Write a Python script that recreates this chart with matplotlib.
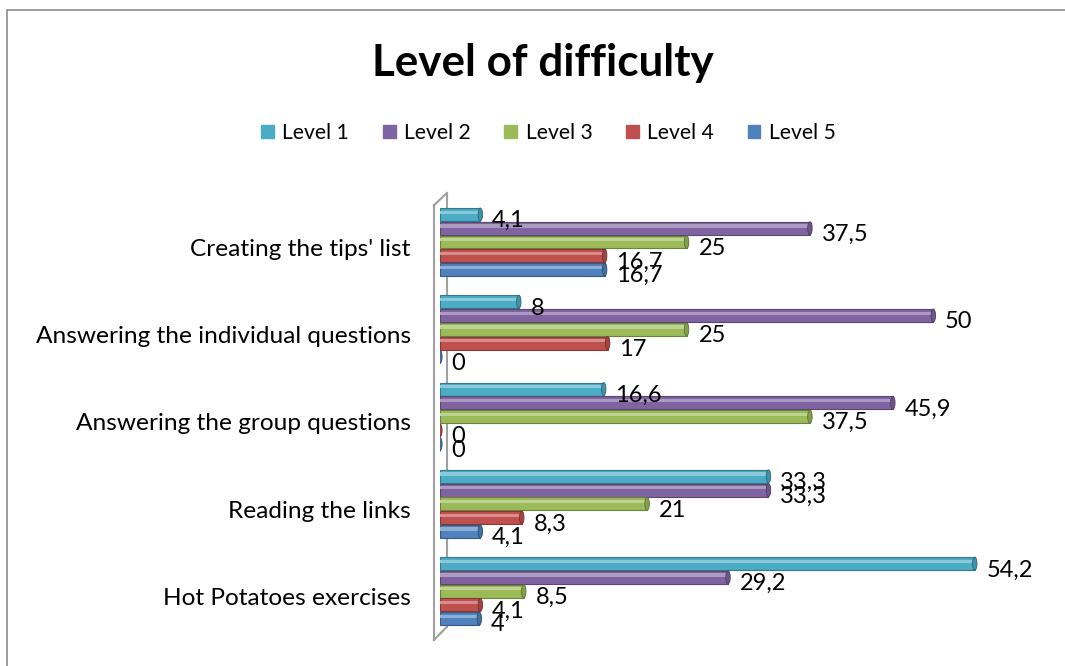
import matplotlib.pyplot as plt
import matplotlib.colors as mcolors
from matplotlib.patches import Rectangle, Ellipse
import numpy as np

plt.rcParams['font.family'] = ['Lato', 'DejaVu Sans']

# data (bottom to top on the y axis)
categories = ['Hot Potatoes exercises', 'Reading the links', 'Answering the group questions',
              'Answering the individual questions', "Creating the tips' list"]
levels = ['Level 1', 'Level 2', 'Level 3', 'Level 4', 'Level 5']
level1 = [54.2, 33.3, 16.6, 8, 4.1]
level2 = [29.2, 33.3, 45.9, 50, 37.5]
level3 = [8.5, 21, 37.5, 25, 25]
level4 = [4.1, 8.3, 0, 17, 16.7]
level5 = [4, 4.1, 0, 0, 16.7]
series = [level1, level2, level3, level4, level5]
colors = ['#4BACC6', '#8064A2', '#9BBB59', '#C0504D', '#4F81BD']

fig = plt.figure(figsize=(10.65, 6.66), dpi=100)
ax = fig.add_axes([0.413, 0.039, 0.556, 0.671])

# outer chart border
fig.patches.append(Rectangle((7 / 1065, -0.1), 1.2, 1.085, transform=fig.transFigure,
                             fill=False, edgecolor='#8c8c8c', linewidth=1.2, zorder=0))

y = np.arange(len(categories))
step = 0.1576
bar_h = 0.148

def darker(c, f=0.7):
    r, g, b = mcolors.to_rgb(c)
    return (r * f, g * f, b * f)

def lighter(c, f=0.35):
    r, g, b = mcolors.to_rgb(c)
    return (r + (1 - r) * f, g + (1 - g) * f, b + (1 - b) * f)

for k, (vals, col) in enumerate(zip(series, colors)):
    ypos = y + (2 - k) * step
    ax.barh(ypos, vals, height=bar_h, color=col, edgecolor=darker(col), linewidth=0.8, zorder=3)
    # highlight stripe for a cylinder look
    ax.barh(ypos + bar_h * 0.18, vals, height=bar_h * 0.25, color=lighter(col), linewidth=0, zorder=4)
    for yy, v in zip(ypos, vals):
        ax.add_patch(Ellipse((v, yy), 0.45, bar_h, facecolor=darker(col, 0.85),
                             edgecolor=darker(col, 0.6), linewidth=0.6, zorder=5))
        ax.annotate(f'{v:g}'.replace('.', ','), (v, yy), xytext=(8.5, -4.5),
                    textcoords='offset points', ha='left', va='center', fontsize=17, zorder=6)

ax.set_xlim(0, 60)
ax.set_ylim(-0.56, 4.56)
# category labels sit slightly below the group centre, as in the 3D original
ax.set_yticks(y - 0.06)
ax.set_yticklabels(categories, fontsize=17.6)
ax.tick_params(axis='y', length=0, pad=21)
ax.set_xticks([])
for s in ax.spines.values():
    s.set_visible(False)

# 3D side wall
wall = dict(color='#a0a0a0', linewidth=1.5, clip_on=False, zorder=2)
ax.plot([-0.6, -0.6], [-0.56, 4.42], **wall)
ax.plot([0.7, 0.7], [-0.41, 4.56], **wall)
ax.plot([-0.6, 0.7], [4.42, 4.56], **wall)
ax.plot([-0.6, 0.7], [-0.56, -0.41], **wall)

fig.text(0.51, 0.905, 'Level of difficulty', ha='center', va='center', fontsize=31.7, fontweight='bold')

handles = [Rectangle((0, 0), 1, 1, color=c) for c in colors]
fig.legend(handles, levels, loc='center', bbox_to_anchor=(0.515, 0.8), ncol=5, frameon=False,
           fontsize=15.2, handlelength=0.6, handleheight=0.6, handletextpad=0.4, columnspacing=1.6)

fig.savefig('out.png', dpi=100)
